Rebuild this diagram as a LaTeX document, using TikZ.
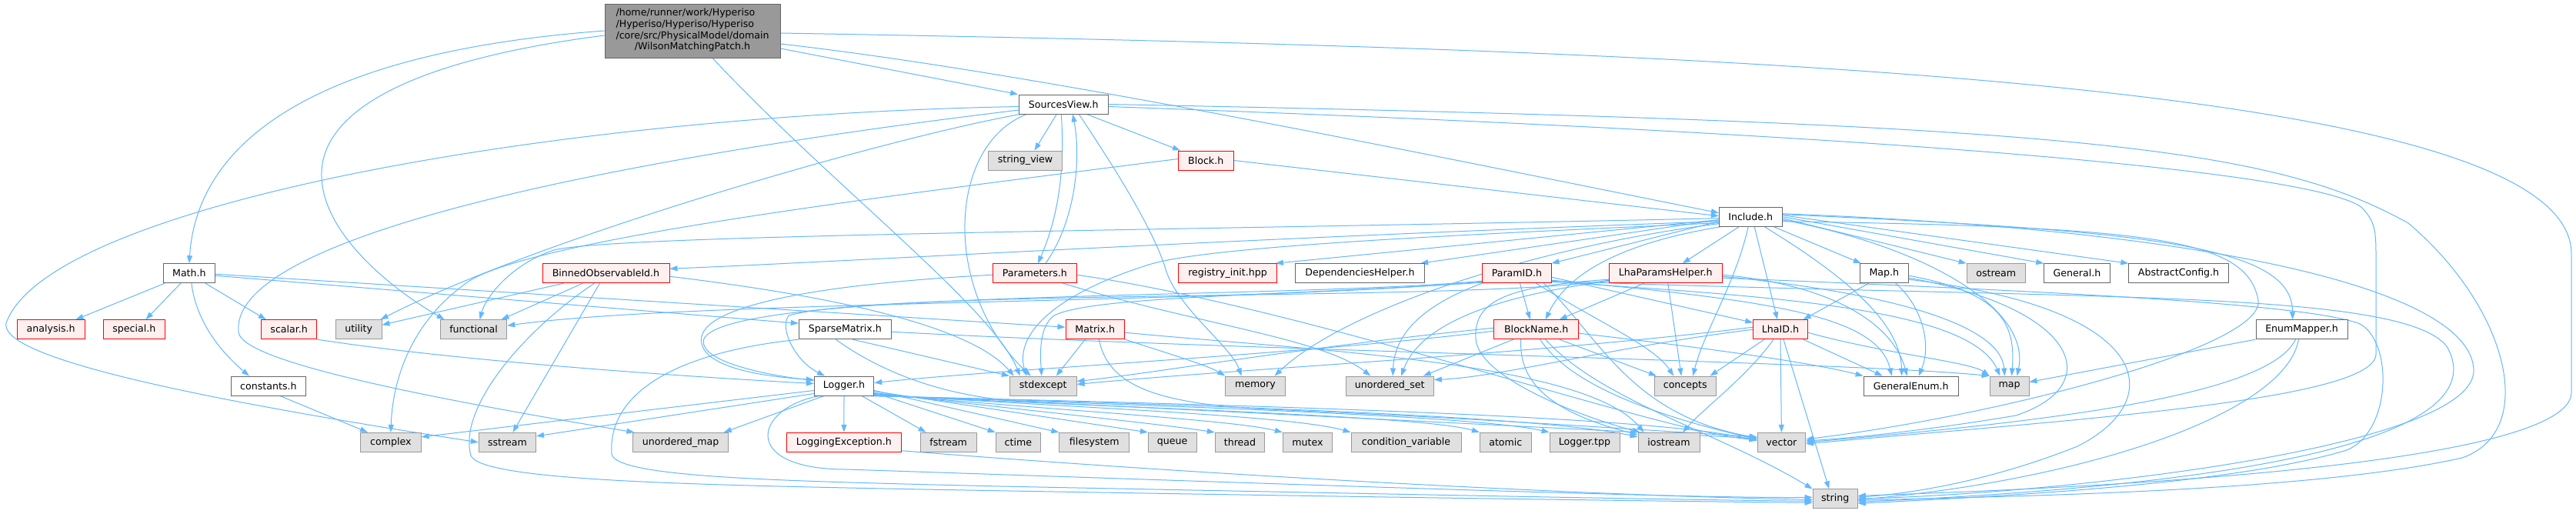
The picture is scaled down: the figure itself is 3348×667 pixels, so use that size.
\documentclass[tikz,border=0pt]{standalone}
\usepackage{fontspec}
\setmainfont{DejaVu Sans}
\usetikzlibrary{arrows.meta}
\pgfdeclarelayer{back}
\pgfdeclarelayer{bg}
\pgfsetlayers{back,bg,main}
\definecolor{edgec}{HTML}{63B8FF}
\definecolor{redb}{HTML}{FF0000}
\definecolor{redf}{HTML}{FFF0F0}
\definecolor{greyf}{HTML}{E0E0E0}
\definecolor{greyb}{HTML}{999999}
\definecolor{darkb}{HTML}{666666}
\definecolor{mainf}{HTML}{999999}
\begin{document}
\begin{tikzpicture}[x=1pt,y=-1pt,
 nbox/.style={rectangle, draw, line width=0.9pt, inner xsep=1pt, inner ysep=0pt, minimum height=25pt, font=\fontsize{12.6}{14.7}\selectfont, text=black},
 wn/.style={nbox, draw=darkb, fill=white},
 gn/.style={nbox, draw=greyb, fill=greyf},
 rn/.style={nbox, draw=redb, fill=redf},
 mainn/.style={nbox, draw=darkb, fill=mainf},
 e/.style={draw=edgec, line width=1pt, -{Triangle[length=10pt,width=7pt]}},
]
\begin{pgfonlayer}{back}
\fill[white] (0,0) rectangle (3348,667);
\end{pgfonlayer}
\useasboundingbox (0,0) rectangle (3348,667);
% nodes
\node[mainn, minimum width=228pt, minimum height=70pt] (main) at (900,40) {\begin{tabular}{@{}l@{}}/home/runner/work/Hyperiso\\/Hyperiso/Hyperiso/Hyperiso\\/core/src/PhysicalModel/domain\\\multicolumn{1}{@{}c@{}}{/WilsonMatchingPatch.h}\end{tabular}};
\node[wn, minimum width=115.5pt] (sv) at (1382.25,135.5) {SourcesView.h};
\node[gn, minimum width=96pt] (sview) at (1332.5,208.5) {string\_view};
\node[rn, minimum width=71.6pt] (block) at (1567.2,208.5) {Block.h};
\node[wn, minimum width=81.7pt] (inc) at (2275.2,281.7) {Include.h};
% row 4
\node[wn, minimum width=66.6pt] (math) at (245.9,355.2) {Math.h};
\node[rn, minimum width=165pt] (binned) at (787.5,355.2) {BinnedObservableId.h};
\node[rn, minimum width=108.3pt] (params) at (1344.9,355.2) {Parameters.h};
\node[rn, minimum width=127.6pt] (reg) at (1595.5,355.2) {registry\_init.hpp};
\node[wn, minimum width=168.4pt] (dep) at (1767.5,355.2) {DependenciesHelper.h};
\node[rn, minimum width=89.3pt] (pid) at (1971.4,355.2) {ParamID.h};
\node[rn, minimum width=147pt] (lhp) at (2164.8,355.2) {LhaParamsHelper.h};
\node[wn, minimum width=63pt] (maph) at (2448.8,355.2) {Map.h};
\node[gn, minimum width=76.3pt] (ostream) at (2594.2,355.2) {ostream};
\node[wn, minimum width=85.6pt] (general) at (2699.5,355.2) {General.h};
\node[wn, minimum width=129.6pt] (abscfg) at (2831.5,355.2) {AbstractConfig.h};
% row 5
\node[rn, minimum width=87.6pt] (analysis) at (66.2,428.2) {analysis.h};
\node[rn, minimum width=79.3pt] (special) at (174.4,428.2) {special.h};
\node[rn, minimum width=72.3pt] (scalar) at (375.7,428.2) {scalar.h};
\node[gn, minimum width=59.7pt] (utility) at (466.2,428.2) {utility};
\node[gn, minimum width=86.3pt] (functional) at (615.6,428.2) {functional};
\node[wn, minimum width=120pt] (sparse) at (1098.3,428.2) {SparseMatrix.h};
\node[rn, minimum width=76.7pt] (matrix) at (1423.3,428.2) {Matrix.h};
\node[rn, minimum width=110pt] (bname) at (1996.7,428.2) {BlockName.h};
\node[rn, minimum width=70.6pt] (lhaid) at (2314,428.2) {LhaID.h};
\node[wn, minimum width=119pt] (enummap) at (2991.5,428.2) {EnumMapper.h};
% row 6
\node[wn, minimum width=97.8pt] (constants) at (348.9,501.5) {constants.h};
\node[wn, minimum width=77.4pt] (logger) at (1097,501.5) {Logger.h};
\node[gn, minimum width=86.7pt] (stdexcept) at (1355.7,501.5) {stdexcept};
\node[gn, minimum width=77.6pt] (memory) at (1631.5,501.5) {memory};
\node[gn, minimum width=114.3pt] (uset) at (1806.2,501.5) {unordered\_set};
\node[gn, minimum width=79.7pt] (concepts) at (2190.2,501.5) {concepts};
\node[wn, minimum width=123.3pt] (genenum) at (2483.7,501.5) {GeneralEnum.h};
\node[gn, minimum width=51pt] (map) at (2611.5,501.5) {map};
% row 7
\node[gn, minimum width=78.6pt] (complex) at (507.9,574.8) {complex};
\node[gn, minimum width=74.4pt] (sstream) at (659.4,574.8) {sstream};
\node[gn, minimum width=123.4pt] (umap) at (884.6,574.8) {unordered\_map};
\node[rn, minimum width=149.7pt] (logexc) at (1096.9,574.8) {LoggingException.h};
\node[gn, minimum width=73.3pt] (fstream) at (1232.7,574.8) {fstream};
\node[gn, minimum width=58.7pt] (ctime) at (1323.4,574.8) {ctime};
\node[gn, minimum width=91pt] (filesystem) at (1422.2,574.8) {filesystem};
\node[gn, minimum width=62.7pt] (queue) at (1523.7,574.8) {queue};
\node[gn, minimum width=64.4pt] (thread) at (1611.5,574.8) {thread};
\node[gn, minimum width=64.4pt] (mutex) at (1699.5,574.8) {mutex};
\node[gn, minimum width=143pt] (condvar) at (1827.5,574.8) {condition\_variable};
\node[gn, minimum width=67pt] (atomic) at (1956.8,574.8) {atomic};
\node[gn, minimum width=91pt] (loggertpp) at (2059.5,574.8) {Logger.tpp};
\node[gn, minimum width=80pt] (iostream) at (2169,574.8) {iostream};
\node[gn, minimum width=62.7pt] (vector) at (2315.4,574.8) {vector};
\node[gn, minimum width=58.3pt] (string) at (2385.2,648.3) {string};

\begin{pgfonlayer}{bg}
% main
\draw[e] (main.west) .. controls (380,70) and (255,200) .. (math.north);
\draw[e] ([yshift=-6pt]main.west) .. controls (520,80) and (415,150) .. (418,230) .. controls (420,300) and (500,370) .. ([xshift=-38pt]functional.north);
\draw[e] ([xshift=26pt]main.south) .. controls (1080,240) and (1290,400) .. ([xshift=-30pt]stdexcept.north);
\draw[e] ([yshift=-23pt]main.east) -- ([xshift=-1pt]sv.north west);
\draw[e] ([yshift=-17pt]main.east) .. controls (1350,95) and (1850,200) .. ([yshift=5pt]inc.west);
\draw[e] ([yshift=-3pt]main.east) .. controls (2300,65) and (3342,110) .. (3342,330) -- (3342,510) .. controls (3342,580) and (3000,625) .. ([yshift=4pt]string.east);
% SourcesView
\draw[e] ([xshift=-9pt]sv.south) -- ([xshift=12pt]sview.north);
\draw[e] ([xshift=30pt]sv.south) -- ([xshift=3pt]block.north west);
\draw[e] ([xshift=-3pt]sv.south) .. controls (1385,230) and (1372,290) .. ([xshift=4pt]params.north);
\draw[e] ([xshift=14pt]params.north) .. controls (1396,290) and (1406,210) .. ([xshift=12pt]sv.south);
\draw[e] ([xshift=20pt]sv.south) .. controls (1450,220) and (1500,300) .. (1515,350) .. controls (1530,400) and (1600,450) .. ([xshift=-18pt]memory.north);
\draw[e] ([xshift=10pt]sv.south west) .. controls (1230,190) and (1225,380) .. ([xshift=-16pt]stdexcept.north);
\draw[e] ([yshift=-3pt]sv.west) .. controls (700,150) and (60,270) .. (8,420) .. controls (0,460) and (200,510) .. (sstream.west);
\draw[e] ([yshift=-7.5pt]sv.west) .. controls (850,200) and (300,300) .. (310,430) .. controls (308,460) and (450,500) .. ([xshift=2pt]umap.north west);
\draw[e] ([xshift=2pt]sv.south west) .. controls (1150,180) and (700,310) .. ([xshift=-2pt]utility.north east);
\draw[e] (sv.east) .. controls (2700,160) and (2950,190) .. (3130,290) .. controls (3260,400) and (3300,560) .. (3200,595) .. controls (3000,640) and (2600,645) .. ([yshift=-2pt]string.east);
\draw[e] ([yshift=-3pt]sv.east) .. controls (2600,180) and (3020,230) .. (3070,270) .. controls (3088,290) and (3088,300) .. (3088,340) -- (3088,460) .. controls (3088,520) and (2700,545) .. ([yshift=-2pt]vector.east);
% Parameters
\draw[e] ([yshift=-2pt]params.west) .. controls (1050,370) and (900,400) .. (912,447) .. controls (920,480) and (1000,490) .. ([yshift=8pt]logger.west);
\draw[e] ([xshift=-18pt]params.south east) .. controls (1550,420) and (1720,440) .. ([xshift=-25pt]uset.north);
\draw[e] ([yshift=-2pt]params.east) .. controls (1700,400) and (2150,560) .. ([yshift=3pt]vector.west);
% Block
\draw[e] (block.east) -- ([yshift=1pt]inc.west);
\draw[e] ([yshift=2pt]block.west) .. controls (1150,255) and (700,310) .. (610,365) .. controls (530,420) and (510,500) .. (complex.north);
% Include
\draw[e] ([yshift=-2pt]inc.west) .. controls (1500,300) and (800,305) .. (720,325) .. controls (660,345) and (630,390) .. ([xshift=8pt]functional.north);
\draw[e] ([yshift=-6pt]inc.west) .. controls (1600,310) and (1100,340) .. ([yshift=6pt]binned.east);
\draw[e] ([yshift=-4pt]inc.west) -- ([xshift=-2pt]reg.north east);
\draw[e] ([yshift=-4pt]inc.west) -- ([xshift=-6pt]dep.north east);
\draw[e] ([yshift=-6pt]inc.west) -- (pid.north east);
\draw[e] ([yshift=-9pt]inc.west) .. controls (2000,320) and (1750,400) .. ([xshift=25pt]memory.north);
\draw[e] ([yshift=-8pt]inc.west) .. controls (1900,305) and (1560,320) .. (1490,345) .. controls (1380,380) and (1318,430) .. ([xshift=-22pt]stdexcept.north);
\draw[e] ([xshift=-15pt]inc.south) -- ([xshift=22pt]lhp.north);
\draw[e] ([xshift=3pt]inc.south west) .. controls (2080,320) and (2030,370) .. ([xshift=12pt]bname.north);
\draw[e] ([xshift=-3pt]inc.south) .. controls (2255,370) and (2215,430) .. ([xshift=10pt]concepts.north);
\draw[e] ([xshift=5pt]inc.south) -- ([xshift=-4pt]lhaid.north);
\draw[e] ([xshift=30pt]inc.south) -- ([xshift=2pt]maph.north west);
\draw[e] ([xshift=18pt]inc.south) .. controls (2400,360) and (2470,420) .. ([xshift=-12pt]genenum.north);
\draw[e] ([yshift=-2pt]inc.east) -- (ostream.north west);
\draw[e] (inc.east) -- (general.north west);
\draw[e] ([yshift=2pt]inc.east) -- (abscfg.north west);
\draw[e] ([yshift=3pt]inc.east) .. controls (2800,300) and (2980,320) .. ([xshift=-12pt]enummap.north);
\draw[e] ([yshift=-4pt]inc.east) .. controls (2500,320) and (2640,400) .. ([xshift=10pt]map.north);
\draw[e] ([yshift=-6pt]inc.east) .. controls (2800,295) and (2920,310) .. (2935,390) .. controls (2945,450) and (2600,540) .. ([yshift=4pt]vector.east);
\draw[e] ([yshift=4pt]inc.east) .. controls (2900,300) and (3210,380) .. (3215,480) .. controls (3220,580) and (2700,640) .. (string.east);
% ParamID
\draw[e] ([xshift=4pt]pid.south) -- ([xshift=-8pt]bname.north);
\draw[e] ([yshift=-5pt]pid.east) -- ([yshift=-4pt]lhaid.north west);
\draw[e] ([xshift=25pt]pid.south) .. controls (2080,420) and (2150,450) .. ([xshift=-15pt]concepts.north);
\draw[e] (pid.south west) .. controls (1840,400) and (1812,440) .. ([xshift=4pt]uset.north);
\draw[e] ([yshift=-10pt]pid.west) .. controls (1650,390) and (950,375) .. (915,440) .. controls (905,470) and (1000,488) .. ([yshift=7pt]logger.west);
\draw[e] ([yshift=-11pt]pid.west) .. controls (1600,395) and (900,390) .. ([yshift=5pt]functional.east);
\draw[e] ([yshift=-12pt]pid.west) .. controls (1650,385) and (1420,385) .. (1370,410) .. controls (1350,425) and (1352,460) .. ([xshift=-2pt]stdexcept.north);
\draw[e] ([yshift=-9pt]pid.east) .. controls (2300,390) and (2440,410) .. ([xshift=-25pt]genenum.north);
\draw[e] ([yshift=-11pt]pid.east) .. controls (2300,385) and (2560,400) .. ([xshift=-12pt]map.north);
\draw[e] ([xshift=35pt]pid.south) .. controls (2080,440) and (2120,540) .. ([yshift=6pt]vector.west);
\draw[e] ([yshift=-10pt]pid.east) .. controls (2700,390) and (3120,375) .. (3180,450) .. controls (3220,520) and (3150,620) .. ([yshift=-4pt]string.east);
% LhaParamsHelper
\draw[e] ([xshift=-28pt]lhp.south) -- ([xshift=30pt]bname.north);
\draw[e] ([xshift=3pt]lhp.south) -- ([xshift=-5pt]concepts.north);
\draw[e] ([yshift=-8pt]lhp.west) .. controls (1960,372) and (1915,390) .. (1918,440) .. controls (1921,490) and (2050,540) .. ([xshift=3pt]iostream.north west);
\draw[e] ([yshift=-10pt]lhp.west) .. controls (1980,380) and (1850,410) .. ([xshift=15pt]uset.north);
\draw[e] ([yshift=-9pt]lhp.west) .. controls (1920,392) and (1150,375) .. (1025,410) .. controls (1012,428) and (1035,470) .. ([xshift=-25pt]logger.north);
\draw[e] ([yshift=-2pt]lhp.east) .. controls (2380,370) and (2460,420) .. ([xshift=-5pt]genenum.north);
\draw[e] ([yshift=-4pt]lhp.east) .. controls (2450,380) and (2600,420) .. ([xshift=-6pt]map.north);
\draw[e] ([yshift=-6pt]lhp.east) .. controls (2700,380) and (2990,395) .. (3065,420) .. controls (3110,440) and (3110,560) .. (3050,585) .. controls (2900,630) and (2600,645) .. ([yshift=-6pt]string.east);
% BlockName
\draw[e] ([xshift=30pt]bname.south) -- ([xshift=3pt]concepts.north west);
\draw[e] ([xshift=-30pt]bname.south) -- ([xshift=-14pt]uset.north east);
\draw[e] ([yshift=2pt]bname.west) .. controls (1700,450) and (1500,485) .. ([yshift=6pt]stdexcept.east);
\draw[e] ([yshift=-2pt]bname.west) .. controls (1700,460) and (1300,480) .. ([yshift=4pt]logger.east);
\draw[e] ([xshift=-20pt]bname.south) .. controls (1975,480) and (1990,530) .. ([yshift=-3pt]iostream.north west);
\draw[e] ([xshift=5pt]bname.south) .. controls (2040,500) and (2150,540) .. ([yshift=4pt]vector.west);
\draw[e] ([xshift=12pt]bname.south) .. controls (2080,520) and (2230,560) .. (string.north west);
\draw[e] ([yshift=-5pt]bname.east) .. controls (2200,450) and (2350,470) .. (genenum.north west);
% LhaID
\draw[e] ([xshift=-21pt]lhaid.south) -- ([xshift=-8pt]concepts.north east);
\draw[e] ([xshift=-9pt]lhaid.south) .. controls (2270,490) and (2215,530) .. ([xshift=18pt]iostream.north);
\draw[e] (lhaid.south) -- (vector.north);
\draw[e] ([xshift=4pt]lhaid.south) -- ([xshift=-8pt]string.north);
\draw[e] ([xshift=-6pt]lhaid.south east) -- ([xshift=-37pt]genenum.north);
\draw[e] ([yshift=-4pt]lhaid.east) .. controls (2450,460) and (2560,470) .. (map.north west);
\draw[e] ([yshift=3pt]lhaid.west) .. controls (2000,460) and (1600,480) .. ([yshift=2pt]stdexcept.east);
\draw[e] (lhaid.west) .. controls (2100,450) and (1950,490) .. ([yshift=8pt]uset.east);
% Map.h
\draw[e] ([xshift=-20pt]maph.south) -- ([xshift=-6pt]lhaid.north east);
\draw[e] ([xshift=15pt]maph.south) .. controls (2500,400) and (2510,450) .. ([xshift=10pt]genenum.north);
\draw[e] ([yshift=-3pt]maph.east) .. controls (2600,380) and (2620,420) .. ([xshift=3pt]map.north);
\draw[e] ([yshift=-6pt]maph.east) .. controls (2700,400) and (2740,500) .. (2620,540) .. controls (2500,560) and (2400,570) .. ([yshift=2pt]vector.east);
\draw[e] ([yshift=-8pt]maph.east) .. controls (2800,400) and (2820,520) .. (2700,580) .. controls (2600,620) and (2500,640) .. ([yshift=2pt]string.east);
% EnumMapper
\draw[e] (enummap.south west) -- ([yshift=5pt]map.east);
\draw[e] ([xshift=-8pt]enummap.south) .. controls (2950,510) and (2700,545) .. (vector.east);
\draw[e] ([xshift=-4pt]enummap.south) .. controls (2970,540) and (2700,625) .. ([yshift=-1pt]string.east);
% Logger
\draw[e] (logger.south) -- (logexc.north);
\draw[e] ([xshift=23pt]logger.south) -- ([xshift=8pt]fstream.north west);
\draw[e] ([yshift=4pt]logger.south east) -- (ctime.north west);
\draw[e] ([yshift=-6pt]logger.east) -- (filesystem.north west);
\draw[e] ([yshift=-7pt]logger.east) -- (queue.north west);
\draw[e] ([yshift=-9pt]logger.east) .. controls (1350,535) and (1500,550) .. (thread.north west);
\draw[e] ([yshift=-10pt]logger.east) .. controls (1350,532) and (1600,545) .. (mutex.north west);
\draw[e] ([yshift=-11pt]logger.east) .. controls (1400,530) and (1680,540) .. (condvar.north west);
\draw[e] ([yshift=-12pt]logger.east) .. controls (1450,530) and (1850,540) .. (atomic.north west);
\draw[e] (logger.south east) .. controls (1500,527) and (1920,540) .. (loggertpp.north west);
\draw[e] ([xshift=-3pt]logger.south east) .. controls (1550,526) and (2000,540) .. ([yshift=-6pt]iostream.north west);
\draw[e] ([xshift=-6pt]logger.south east) .. controls (1600,526) and (2150,540) .. ([yshift=2pt]vector.west);
\draw[e] ([yshift=-6pt]logger.west) -- ([yshift=-6pt]complex.north east);
\draw[e] ([yshift=-10pt]logger.west) -- ([yshift=-5pt]sstream.north east);
\draw[e] ([xshift=-26pt]logger.south) -- ([xshift=-6pt]umap.north east);
\draw[e] ([xshift=-32pt]logger.south) .. controls (980,530) and (960,610) .. (1100,610) .. controls (1700,630) and (2200,648) .. ([yshift=2pt]string.west);
\draw[e] ([yshift=2pt]logexc.south east) .. controls (1600,620) and (2100,645) .. ([yshift=-1pt]string.west);
% Math, scalar, constants
\draw[e] (scalar.south east) .. controls (600,470) and (900,490) .. ([yshift=3pt]logger.west);
\draw[e] ([xshift=15pt]constants.south) -- ([xshift=-30pt]complex.north);
\draw[e] ([xshift=2pt]math.south west) -- ([xshift=-12pt]analysis.north east);
\draw[e] ([xshift=-11pt]math.south) -- ([xshift=15pt]special.north);
\draw[e] ([xshift=3pt]math.south) .. controls (255,420) and (290,460) .. ([xshift=-25pt]constants.north);
\draw[e] ([xshift=21pt]math.south) -- ([xshift=-30pt]scalar.north);
\draw[e] ([yshift=-3pt]math.east) -- ([yshift=-5pt]sparse.north west);
\draw[e] ([yshift=-1pt]math.east) -- ([yshift=3pt]matrix.west);
% SparseMatrix
\draw[e] ([xshift=10pt]sparse.south) -- (stdexcept.north west);
\draw[e] (sparse.south west) .. controls (860,460) and (790,520) .. (795,590) .. controls (800,620) and (1000,625) .. (1300,632) .. controls (1800,642) and (2200,650) .. ([yshift=-3pt]string.west);
\draw[e] ([xshift=-12pt]sparse.south) .. controls (1140,480) and (1220,515) .. (1330,522) .. controls (1600,535) and (2100,560) .. ([yshift=5pt]vector.west);
\draw[e] ([yshift=-3pt]sparse.east) .. controls (1600,455) and (2400,470) .. (map.north west);
% Matrix
\draw[e] ([xshift=-13pt]matrix.south) -- ([xshift=17pt]stdexcept.north);
\draw[e] (matrix.south east) .. controls (1520,460) and (1570,475) .. (memory.north west);
\draw[e] ([xshift=5pt]matrix.south) .. controls (1440,500) and (1500,525) .. (1650,532) .. controls (1950,545) and (2150,560) .. ([yshift=7pt]vector.west);
\draw[e] ([yshift=-4pt]matrix.east) .. controls (1700,455) and (2060,470) .. ([xshift=8pt]iostream.north west);
% BinnedObservableId
\draw[e] ([xshift=-55pt]binned.south) -- ([yshift=6pt]utility.east);
\draw[e] ([xshift=-30pt]binned.south) -- ([xshift=36pt]functional.north);
\draw[e] ([xshift=-8pt]binned.south) -- ([xshift=7pt]sstream.north);
\draw[e] ([xshift=-15pt]binned.south) .. controls (680,430) and (595,530) .. (612,592) .. controls (625,625) and (900,630) .. (1200,636) .. controls (1700,645) and (2200,652) .. ([yshift=-5pt]string.west);
\draw[e] ([yshift=-4pt]binned.east) .. controls (1000,375) and (1250,410) .. ([xshift=-38pt]stdexcept.north);
\end{pgfonlayer}
\end{tikzpicture}
\end{document}
